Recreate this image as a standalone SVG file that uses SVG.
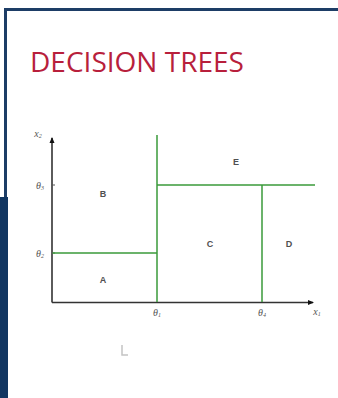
<svg xmlns="http://www.w3.org/2000/svg" width="338" height="398" viewBox="0 0 338 398">
<style>
.title{font-family:"Open Sans","Liberation Sans",sans-serif;font-size:27px;fill:#b81f3c}
.reg{font-family:"Liberation Sans",sans-serif;font-size:9px;font-weight:bold;fill:#505050;text-anchor:middle}
.th{font-family:"Liberation Serif",serif;font-size:10px;font-style:italic;fill:#555;text-anchor:middle}
.sub{font-size:6px}
.axis{stroke:#333;stroke-width:1.6;fill:none}
.split{stroke:#3a9a3a;stroke-width:1.5;fill:none}
</style>
<defs>
<marker id="ah" markerWidth="6" markerHeight="6" refX="5" refY="3" orient="auto" markerUnits="userSpaceOnUse">
<path d="M0,0.5 L6,3 L0,5.5 Z" fill="#111"/>
</marker>
</defs>
<rect width="338" height="398" fill="#fff"/>
<g id="frame">
<path d="M5.5,398 V9.5 H338" fill="none" stroke="#1d3d66" stroke-width="3"/>
<rect x="0" y="197" width="8" height="201" fill="#123661"/>
</g>
<text id="title" class="title" x="30" y="72" textLength="214" lengthAdjust="spacingAndGlyphs">DECISION TREES</text>
<g id="connectors">
<path class="axis" d="M52,302.5 V138" marker-end="url(#ah)"/>
<path class="axis" d="M52,302.5 H313" marker-end="url(#ah)"/>
<path d="M52,185 H55" stroke="#555" stroke-width="1"/>
<path d="M52,253 H55" stroke="#555" stroke-width="1"/>
<path class="split" d="M157,302 V135"/>
<path class="split" d="M52.5,253 H157"/>
<path class="split" d="M157,185 H315"/>
<path class="split" d="M262,185 V302"/>
</g>
<g id="axis-labels">
<text class="th" x="38" y="137">x<tspan class="sub" dy="1">2</tspan></text>
<text class="th" x="40" y="189">θ<tspan class="sub" dy="1">3</tspan></text>
<text class="th" x="40" y="257">θ<tspan class="sub" dy="1">2</tspan></text>
<text class="th" x="157" y="316">θ<tspan class="sub" dy="1">1</tspan></text>
<text class="th" x="262" y="316">θ<tspan class="sub" dy="1">4</tspan></text>
<text class="th" x="317" y="315">x<tspan class="sub" dy="1">1</tspan></text>
</g>
<g id="A"><text class="reg" x="103" y="283">A</text></g>
<g id="B"><text class="reg" x="103" y="197">B</text></g>
<g id="C"><text class="reg" x="210" y="247">C</text></g>
<g id="D"><text class="reg" x="289" y="247">D</text></g>
<g id="E"><text class="reg" x="236" y="165">E</text></g>
<g id="cursor"><path d="M122,345 V355 H128" fill="none" stroke="#c4c4c4" stroke-width="1.5"/></g>
</svg>
